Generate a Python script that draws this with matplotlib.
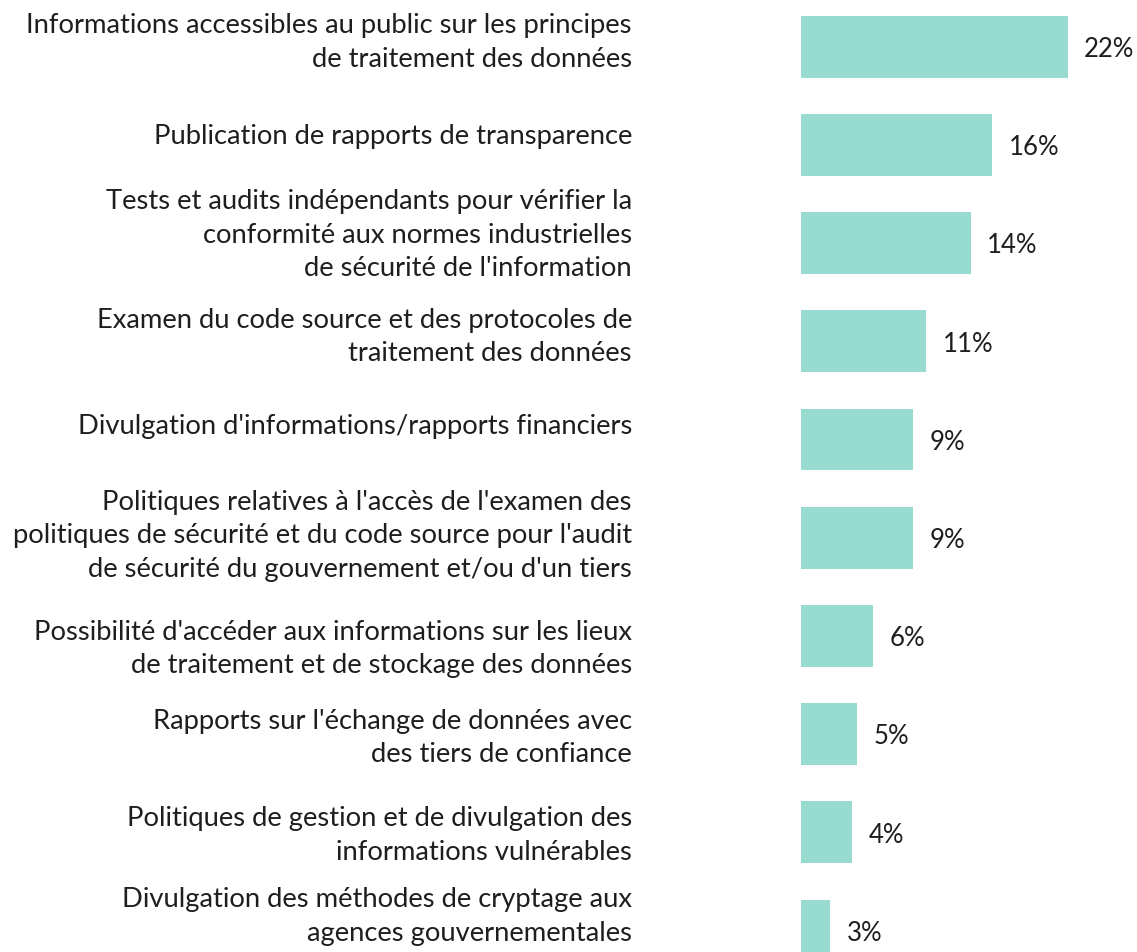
import numpy as np
import matplotlib.pyplot as plt

# categories, top to bottom
categories = [
    "Informations accessibles au public sur les principes\nde traitement des données",
    "Publication de rapports de transparence",
    "Tests et audits indépendants pour vérifier la\nconformité aux normes industrielles\nde sécurité de l'information",
    "Examen du code source et des protocoles de\ntraitement des données",
    "Divulgation d'informations/rapports financiers",
    "Politiques relatives à l'accès de l'examen des\npolitiques de sécurité et du code source pour l'audit\nde sécurité du gouvernement et/ou d'un tiers",
    "Possibilité d'accéder aux informations sur les lieux\nde traitement et de stockage des données",
    "Rapports sur l'échange de données avec\ndes tiers de confiance",
    "Politiques de gestion et de divulgation des\ninformations vulnérables",
    "Divulgation des méthodes de cryptage aux\nagences gouvernementales",
]
values = [22.0, 15.8, 14.0, 10.3, 9.25, 9.25, 5.92, 4.62, 4.18, 2.4]
value_labels = ["22%", "16%", "14%", "11%", "9%", "9%", "6%", "5%", "4%", "3%"]

# small vertical nudges of the category labels (points), as in the original layout
label_nudge = [2.9, 5.8, 5.8, 3.2, 9.4, 1.4, -9.4, -2.9, -2.5, 10.1]

bar_color = "#98dcd1"
text_color = "#1e1e1e"

plt.rcParams['font.family'] = ['Lato', 'DejaVu Sans']

fig = plt.figure(figsize=(11.37, 9.52), dpi=100)
ax = fig.add_axes([801 / 1137, 0, 315 / 1137, 1])

y = np.arange(len(categories))
ax.barh(y, values, height=0.63, color=bar_color)

for yi, v, lab in zip(y, values, value_labels):
    ax.annotate(lab, (v, yi), xytext=(12, -2), textcoords='offset points',
                ha='left', va='center', fontsize=18.5, color=text_color)

for yi, cat, dy in zip(y, categories, label_nudge):
    ax.annotate(cat, (0, yi), xycoords=('axes fraction', 'data'),
                xytext=(-121.7, dy), textcoords='offset points',
                ha='right', va='center', fontsize=19.7, color=text_color,
                linespacing=1.43, annotation_clip=False)

ax.set_xlim(0, 26)
ax.set_ylim(9.219, -0.4756)
ax.set_xticks([])
ax.set_yticks([])
for s in ax.spines.values():
    s.set_visible(False)

fig.savefig("out.png", dpi=100)
